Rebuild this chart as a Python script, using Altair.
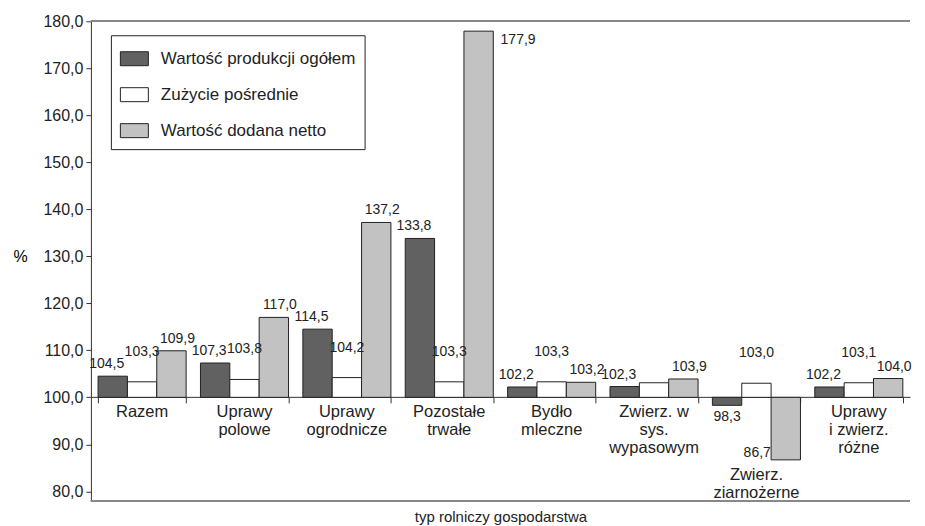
import altair as alt
import pandas as pd

categories = ["Razem", "Uprawy\npolowe", "Uprawy\nogrodnicze", "Pozostałe\ntrwałe",
              "Bydło\nmleczne", "Zwierz. w\nsys.\nwypasowym", "Zwierz.\nziarnożerne",
              "Uprawy\ni zwierz.\nróżne"]
series = ["Wartość produkcji ogółem", "Zużycie pośrednie", "Wartość dodana netto"]
produkcja = [104.5, 107.3, 114.5, 133.8, 102.2, 102.3, 98.3, 102.2]
zuzycie = [103.3, 103.8, 104.2, 103.3, 103.3, 103.1, 103.0, 103.1]
dodana = [109.9, 117.0, 137.2, 177.9, 103.2, 103.9, 86.7, 104.0]
labels_produkcja = ["104,5", "107,3", "114,5", "133,8", "102,2", "102,3", "98,3", "102,2"]
labels_zuzycie = ["103,3", "103,8", "104,2", "103,3", "103,3", "", "103,0", "103,1"]
labels_dodana = ["109,9", "117,0", "137,2", "177,9", "103,2", "103,9", "86,7", "104,0"]
colors = ["#616161", "#ffffff", "#c2c2c2"]
y_ticks = [80, 90, 100, 110, 120, 130, 140, 150, 160, 170, 180]

YMIN, YMAX = 78.0, 180.0
W, H = 820, 480
BASE = 100

rows = []
for vals, labs, s in [(produkcja, labels_produkcja, series[0]),
                      (zuzycie, labels_zuzycie, series[1]),
                      (dodana, labels_dodana, series[2])]:
    for c, v, l in zip(categories, vals, labs):
        rows.append({"cat": c, "series": s, "value": v, "label": l})
df = pd.DataFrame(rows)

cat_df = pd.DataFrame({
    "cat": categories,
    "ly": [min(BASE, a, b, c) for a, b, c in zip(produkcja, zuzycie, dodana)],
})

axis_offset = -round(H * (BASE - YMIN) / (YMAX - YMIN))

x_enc = alt.X("cat:N", sort=categories,
              scale=alt.Scale(paddingInner=0.14, paddingOuter=0.07),
              axis=alt.Axis(title="typ rolniczy gospodarstwa", labels=False,
                            tickBand="extent", tickSize=6, tickColor="#333",
                            domainColor="#333", offset=axis_offset,
                            titleY=-axis_offset + 24, titleBaseline="bottom",
                            titleFontSize=15, titleFontWeight="normal",
                            titleColor="#222"))
xo_enc = alt.XOffset("series:N", sort=series,
                     scale=alt.Scale(paddingInner=0, paddingOuter=0))
y_scale = alt.Scale(domain=[YMIN, YMAX], nice=False, zero=False)

bars = alt.Chart(df).mark_bar(stroke="#222", strokeWidth=1).encode(
    x=x_enc,
    xOffset=xo_enc,
    y=alt.Y("value:Q", scale=y_scale,
            axis=alt.Axis(values=y_ticks, title="%", titleAngle=0,
                          titleX=-78, titleY=H * (YMAX - 130) / (YMAX - YMIN),
                          titleAlign="left", titleBaseline="middle",
                          titleFontSize=16, titleFontWeight="normal",
                          labelExpr="replace(format(datum.value, '.1f'), '.', ',')",
                          labelFontSize=16, labelColor="#222", grid=False,
                          tickSize=5, tickColor="#333", domainColor="#333",
                          labelPadding=3)),
    y2=alt.datum(BASE),
    color=alt.Color("series:N", sort=series,
                    scale=alt.Scale(domain=series, range=colors),
                    legend=alt.Legend(title=None, orient="none", legendX=20,
                                      legendY=14, strokeColor="#222",
                                      fillColor="#ffffff", padding=9,
                                      labelFontSize=17, labelColor="#222",
                                      labelLimit=0,
                                      labelOffset=12, rowPadding=12,
                                      symbolType="M-1,-0.5L1,-0.5L1,0.5L-1,0.5Z",
                                      symbolSize=784, symbolStrokeColor="#222",
                                      symbolStrokeWidth=1, symbolOpacity=1)),
)

text_base = alt.Chart(df).encode(x=alt.X("cat:N", sort=categories), xOffset=xo_enc,
                                 y=alt.Y("value:Q"), text="label:N")

pos = (alt.datum.value >= BASE) & (alt.datum.value <= 175)

above_first = text_base.transform_filter(
    pos & (alt.datum.series == series[0])
).mark_text(baseline="bottom", dx=-6, dy=-5, fontSize=14, color="#222")

above_mid = text_base.transform_filter(
    pos & (alt.datum.series == series[1])
).mark_text(baseline="bottom", dy=-23, fontSize=14, color="#222")

above_last = text_base.transform_filter(
    pos & (alt.datum.series == series[2])
).mark_text(baseline="bottom", dx=6, dy=-5, fontSize=14, color="#222")

right = text_base.transform_filter(alt.datum.value > 175).mark_text(
    align="left", baseline="top", dx=22, dy=2, fontSize=14, color="#222")

below = text_base.transform_filter(
    (alt.datum.value < BASE) & (alt.datum.value > 95)
).mark_text(baseline="top", dy=5, fontSize=14, color="#222")

left = text_base.transform_filter(alt.datum.value <= 95).mark_text(
    align="right", baseline="bottom", dx=-15, dy=0, fontSize=14, color="#222")

cat_labels = alt.Chart(cat_df).mark_text(
    baseline="top", dy=7, fontSize=16.5, lineBreak="\n", lineHeight=18, color="#222"
).encode(x=alt.X("cat:N", sort=categories), y=alt.Y("ly:Q"), text="cat:N")

frame_top = alt.Chart(cat_df).mark_rule(color="#888", strokeWidth=1.5).encode(
    y=alt.datum(YMAX))
frame_bottom = alt.Chart(cat_df).mark_rule(color="#888", strokeWidth=1.5).encode(
    y=alt.datum(YMIN))

chart = alt.layer(frame_top, frame_bottom, bars, above_first, above_mid, above_last,
                  right, below, left, cat_labels).properties(
    width=W, height=H
).configure(font="Liberation Sans").configure_view(stroke=None)

chart.save("out.html", embed_options={"renderer": "svg", "actions": False})
